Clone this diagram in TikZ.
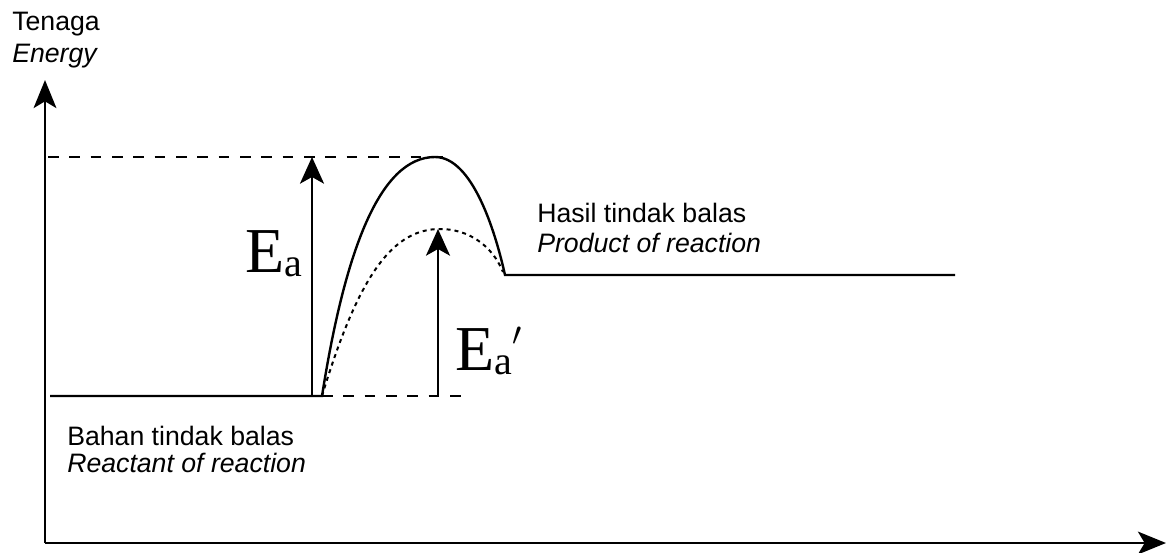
\documentclass[tikz,border=0pt]{standalone}
\usepackage{fontspec}
\setmainfont{Liberation Sans}
\newfontfamily\eafont{Liberation Serif}
\usetikzlibrary{arrows.meta,positioning}
\newcommand{\lowa}{\raisebox{-3pt}{\fontsize{30}{30}\selectfont a}}

\begin{document}
\begin{tikzpicture}[x=0.75pt,y=-0.75pt,
  axis/.style={line width=2pt,-{Stealth[length=21pt,width=17pt,inset=5pt]}},
  lvl/.style={line width=1.8pt},
  guide/.style={line width=1.6pt,dash pattern=on 8pt off 8pt},
  lowpath/.style={line width=1.5pt,dash pattern=on 3pt off 3pt},
  earr/.style={line width=1.7pt,-{Stealth[length=20pt,width=18pt,inset=5pt]}},
  lbl/.style={font=\fontsize{20}{22}\selectfont,inner sep=0pt,anchor=base west},
  lbli/.style={lbl,font=\fontsize{20}{22}\selectfont\itshape},
  ealbl/.style={font=\eafont\fontsize{48}{48}\selectfont,inner sep=0pt,anchor=base west}]
\useasboundingbox (0,0) rectangle (1167,553);
% axes
\coordinate (O) at (45,543);
\coordinate (ytop) at (45,80);
\coordinate (xend) at (1166,543);
\draw[axis] (O) -- (ytop);
\draw[axis] (O) -- (xend);
% levels and paths
\coordinate (rL) at (50,396);
\coordinate (rR) at (322,396);
\coordinate (peak) at (435,157);
\coordinate (pL) at (505,275);
\coordinate (pR) at (955,275);
\coordinate (cat) at (440,229);
\coordinate (dend) at (503,272);
\coordinate (topL) at (48,157);
\coordinate (topR) at (452,157);
\coordinate (botR) at (468,396);
\coordinate (eaB) at (312,396);
\coordinate (eaT) at (312,157);
\coordinate (ebB) at (438,396);
\coordinate (ebT) at (438,229);
\draw[guide] (topL) -- (topR);
\draw[guide] (rR) -- (botR);
\draw[lvl] (rL) -- (rR) .. controls (345,250) and (380,157) .. (peak)
  .. controls (472,157) and (495,230) .. (pL) -- (pR);
\draw[lowpath] (rR) .. controls (360,270) and (395,229) .. (cat)
  .. controls (468,229) and (492,245) .. (dend);
\draw[earr] (eaB) -- (eaT);
\draw[earr] (ebB) -- (ebT);
% labels
\node[lbl] (tenaga) at (12,31) {Tenaga};
\node[lbli] (energy) at (12,62) {Energy};
\node[lbl] (hasil) at (537,222) {Hasil tindak balas};
\node[lbli] (product) at (537,252) {Product of reaction};
\node[lbl] (bahan) at (67,445) {Bahan tindak balas};
\node[lbli] (reactant) at (67,472) {Reactant of reaction};
\node[ealbl] (ea) at (245,272) {E\lowa};
\node[ealbl] (eb) at (455,370) {E\lowa\raisebox{9pt}{$'$}};
\end{tikzpicture}
\end{document}
